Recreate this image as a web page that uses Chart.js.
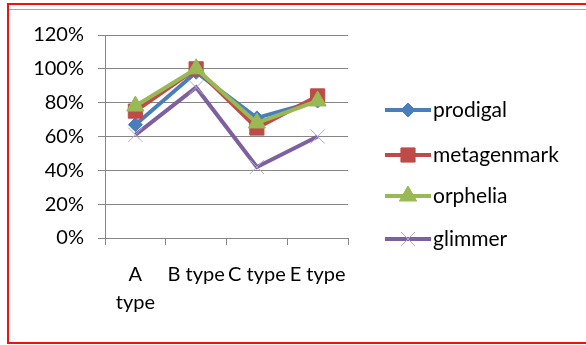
<!DOCTYPE html>
<html>
<head>
<meta charset="utf-8">
<script src="https://cdn.jsdelivr.net/npm/chart.js@4/dist/chart.umd.min.js"></script>
<style>
  html, body { margin: 0; padding: 0; background: #fff; }
  #wrap { position: relative; width: 586px; height: 345px; }
  #frame { position: absolute; left: 7px; top: 3px; width: 600px; height: 337px; border: 2px solid #f01010; box-sizing: content-box; pointer-events: none; }
  #topline { position: absolute; left: 9px; top: 9px; width: 577px; height: 1px; background: #a6a6a6; }
  canvas { position: absolute; left: 0; top: 0; }
</style>
</head>
<body>
<div id="wrap">
  <canvas id="c" width="586" height="345"></canvas>
  <div id="topline"></div>
  <div id="frame"></div>
</div>
<script>
// Categories and series (share of hits, 0..1)
const categories = ['A type', 'B type', 'C type', 'E type'];
const tickLabels = [['A', 'type'], 'B type', 'C type', 'E type'];
const prodigal    = [0.67, 0.98, 0.71, 0.81];
const metagenmark = [0.75, 1.00, 0.65, 0.84];
const orphelia    = [0.78, 1.00, 0.68, 0.81];
const glimmer     = [0.61, 0.89, 0.42, 0.60];
const yTicks = [0, 0.2, 0.4, 0.6, 0.8, 1.0, 1.2];

const FONT = 'Lato, "Liberation Sans", sans-serif';

const series = [
  { label: 'prodigal',    data: prodigal,    color: '#4a7ebb', point: 'rectRot',  radius: 7,  pointBorder: '#4a7ebb', pbw: 1 },
  { label: 'metagenmark', data: metagenmark, color: '#be4b48', point: 'rect',     radius: 10, pointBorder: '#be4b48', pbw: 1 },
  { label: 'orphelia',    data: orphelia,    color: '#98b954', point: 'triangle', radius: 10, pointBorder: '#98b954', pbw: 1 },
  { label: 'glimmer',     data: glimmer,     color: '#7d60a0', point: 'cross',    radius: 10, pointBorder: '#b5a6cc', pbw: 1, rot: 45 }
];

// Legend drawn on the canvas: line segment with the series marker in its middle
const sideLegend = {
  id: 'sideLegend',
  afterDraw(chart) {
    const ctx = chart.ctx;
    const rows = [110, 155, 196, 239];
    const x0 = 385, x1 = 431, xm = 408;
    chart.data.datasets.forEach((ds, i) => {
      const y = rows[i];
      ctx.save();
      ctx.strokeStyle = ds.borderColor;
      ctx.lineWidth = ds.borderWidth;
      ctx.beginPath();
      ctx.moveTo(x0, y);
      ctx.lineTo(x1, y);
      ctx.stroke();
      ctx.fillStyle = ds.pointBackgroundColor;
      ctx.strokeStyle = ds.pointBorderColor;
      ctx.lineWidth = ds.pointBorderWidth;
      Chart.helpers.drawPoint(ctx, {
        pointStyle: ds.pointStyle,
        radius: ds.pointRadius,
        rotation: ds.pointRotation || 0,
        borderWidth: ds.pointBorderWidth
      }, xm, y);
      ctx.fillStyle = '#000';
      ctx.font = '21px ' + FONT;
      ctx.textAlign = 'left';
      ctx.textBaseline = 'middle';
      ctx.fillText(ds.label, 433, y);
      ctx.restore();
    });
  }
};

new Chart(document.getElementById('c'), {
  type: 'line',
  data: {
    labels: tickLabels,
    datasets: series.map((s, i) => ({
      label: s.label,
      data: s.data,
      borderColor: s.color,
      backgroundColor: s.color,
      borderWidth: 4,
      pointStyle: s.point,
      pointRadius: s.radius,
      pointHoverRadius: s.radius,
      pointBackgroundColor: s.color,
      pointBorderColor: s.pointBorder,
      pointBorderWidth: s.pbw,
      pointRotation: s.rot || 0,
      tension: 0,
      fill: false,
      order: series.length - i
    }))
  },
  options: {
    responsive: false,
    animation: false,
    events: [],
    layout: { padding: { left: 0, top: 35, right: 238, bottom: 0 } },
    plugins: { legend: { display: false }, tooltip: { enabled: false } },
    scales: {
      x: {
        offset: true,
        grid: { offset: true, drawOnChartArea: false, drawTicks: true, tickLength: 7, color: '#868686', lineWidth: 1 },
        border: { display: true, color: '#868686', width: 1 },
        ticks: {
          color: '#000', font: { family: FONT, size: 20, lineHeight: 1.4 },
          maxRotation: 0, minRotation: 0, autoSkip: false, padding: 16
        },
        afterFit(scale) { scale.height = 107; }
      },
      y: {
        min: 0, max: 1.2,
        afterBuildTicks(scale) { scale.ticks = yTicks.map(v => ({ value: v })); },
        grid: { color: '#868686', lineWidth: 1, tickLength: 7, drawTicks: true },
        border: { display: true, color: '#868686', width: 1 },
        ticks: {
          color: '#000', font: { family: FONT, size: 20 }, padding: 14,
          callback: v => Math.round(v * 100) + '%'
        },
        afterFit(scale) { scale.width = 105; }
      }
    }
  },
  plugins: [sideLegend]
});
</script>
</body>
</html>
